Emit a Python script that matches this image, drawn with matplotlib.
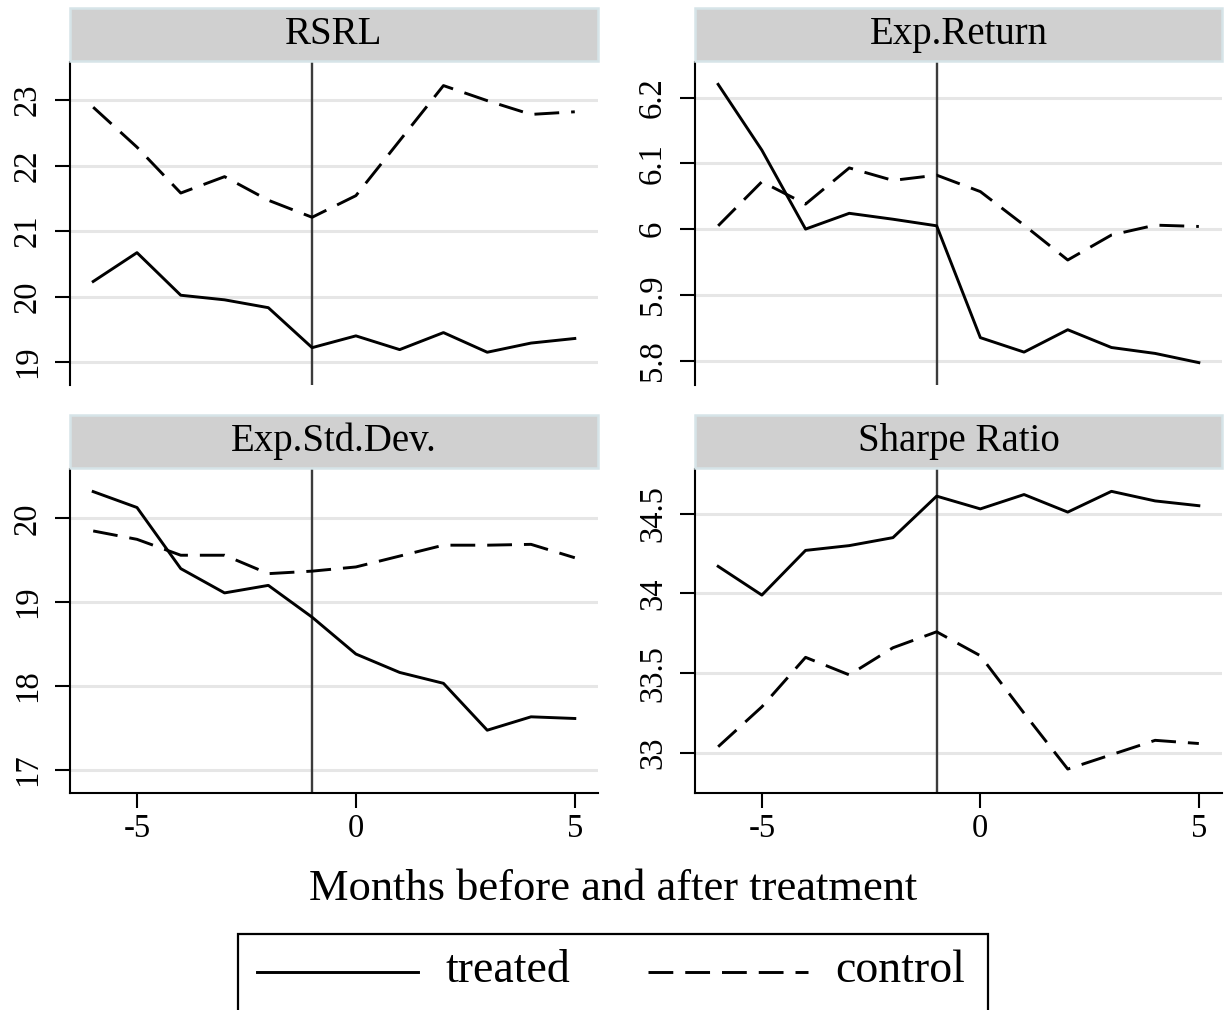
import matplotlib
matplotlib.use("Agg")
import matplotlib.pyplot as plt
from matplotlib.patches import Rectangle
from matplotlib.lines import Line2D

plt.rcParams["font.family"] = ["Liberation Serif", "DejaVu Serif"]

months = [-6, -5, -4, -3, -2, -1, 0, 1, 2, 3, 4, 5]

panel_titles = ["RSRL", "Exp.Return", "Exp.Std.Dev.", "Sharpe Ratio"]

rsrl_treated = [20.23, 20.67, 20.02, 19.95, 19.83, 19.22, 19.40, 19.19, 19.45, 19.15, 19.29, 19.36]
rsrl_control = [22.89, 22.28, 21.58, 21.83, 21.47, 21.21, 21.54, 22.38, 23.22, 22.99, 22.78, 22.82]

ret_treated = [6.220, 6.120, 6.000, 6.024, 6.015, 6.005, 5.835, 5.813, 5.847, 5.820, 5.811, 5.797]
ret_control = [6.005, 6.072, 6.038, 6.093, 6.074, 6.082, 6.057, 6.006, 5.953, 5.991, 6.006, 6.004]

sd_treated = [20.32, 20.13, 19.40, 19.11, 19.20, 18.82, 18.38, 18.16, 18.03, 17.47, 17.63, 17.61]
sd_control = [19.85, 19.75, 19.56, 19.56, 19.34, 19.37, 19.42, 19.55, 19.68, 19.68, 19.69, 19.53]

sharpe_treated = [34.17, 33.99, 34.27, 34.30, 34.35, 34.61, 34.53, 34.62, 34.51, 34.64, 34.58, 34.55]
sharpe_control = [33.04, 33.29, 33.60, 33.49, 33.66, 33.76, 33.61, 33.25, 32.90, 32.99, 33.08, 33.06]

treated = [rsrl_treated, ret_treated, sd_treated, sharpe_treated]
control = [rsrl_control, ret_control, sd_control, sharpe_control]

y_ticks = [[19, 20, 21, 22, 23],
           [5.8, 5.9, 6.0, 6.1, 6.2],
           [17, 18, 19, 20],
           [33, 33.5, 34, 34.5]]
y_ticklabels = [["19", "20", "21", "22", "23"],
                ["5.8", "5.9", "6", "6.1", "6.2"],
                ["17", "18", "19", "20"],
                ["33", "33.5", "34", "34.5"]]
y_limits = [(18.65, 23.58), (5.763, 6.254), (16.72, 20.59), (32.75, 34.78)]
x_ticks = [-5, 0, 5]
treatment_month = -1

W, H = 1226, 1010
fig = plt.figure(figsize=(W / 100, H / 100), dpi=100)
fig.patch.set_facecolor("white")

def fx(px):
    return px / W

def fy(py):
    return 1 - py / H

# panel geometry in pixels: (left, right, header_top, header_bottom, plot_top, plot_bottom)
geom = [(70, 598, 8, 61, 62, 385),
        (695, 1222, 8, 61, 62, 385),
        (70, 598, 415, 468, 469, 793),
        (695, 1222, 415, 468, 469, 793)]

dash = (0, (8.5, 4.1))
lw = 2.1

for i, (l, r, ht, hb, pt, pb) in enumerate(geom):
    ax = fig.add_axes([fx(l), fy(pb), fx(r - l), (pb - pt) / H])
    ax.set_xlim(-6.53, 5.53)
    ax.set_ylim(*y_limits[i])
    for yv in y_ticks[i]:
        ax.axhline(yv, color="#e6e6e6", lw=2.2, zorder=0)
    ax.axvline(treatment_month, color="#3c3c3c", lw=1.7, zorder=1)
    ax.plot(months, treated[i], color="black", lw=lw, zorder=3)
    ax.plot(months, control[i], color="black", lw=lw, ls=dash, zorder=3)
    ax.set_yticks(y_ticks[i])
    ax.set_yticklabels(y_ticklabels[i], rotation=90, va="center")
    ax.tick_params(axis="y", direction="out", length=10.5, width=1.5, labelsize=23.5, pad=9)
    for s in ["top", "right"]:
        ax.spines[s].set_visible(False)
    ax.spines["left"].set_linewidth(1.5)
    if i < 2:
        ax.spines["bottom"].set_visible(False)
        ax.set_xticks([])
    else:
        ax.spines["bottom"].set_linewidth(1.5)
        ax.set_xticks(x_ticks)
        ax.set_xticklabels([str(v) for v in x_ticks])
        ax.tick_params(axis="x", direction="out", length=10.5, width=1.5, labelsize=23.5, pad=4)
    # panel header strip
    fig.add_artist(Rectangle((fx(l), fy(hb)), fx(r - l), (hb - ht) / H,
                             transform=fig.transFigure, facecolor="#d0d0d0",
                             edgecolor="#d6e4e8", lw=1.8))
    fig.text(fx((l + r) / 2), fy((ht + hb) / 2), panel_titles[i], ha="center",
             va="center", fontsize=28)

fig.text(fx(613), fy(889), "Months before and after treatment", ha="center",
         va="center", fontsize=32)

# legend box
fig.add_artist(Rectangle((fx(238), fy(1030)), fx(988 - 238), (1030 - 934) / H,
                         transform=fig.transFigure, facecolor="white",
                         edgecolor="black", lw=1.6))
fig.add_artist(Line2D([fx(257), fx(418)], [fy(972), fy(972)], transform=fig.transFigure,
                      color="black", lw=lw))
fig.text(fx(445), fy(971), "treated", ha="left", va="center", fontsize=33)
fig.add_artist(Line2D([fx(648), fx(808)], [fy(972), fy(972)], transform=fig.transFigure,
                      color="black", lw=lw, ls=dash))
fig.text(fx(835), fy(971), "control", ha="left", va="center", fontsize=33)

fig.savefig("out.png", dpi=100)
